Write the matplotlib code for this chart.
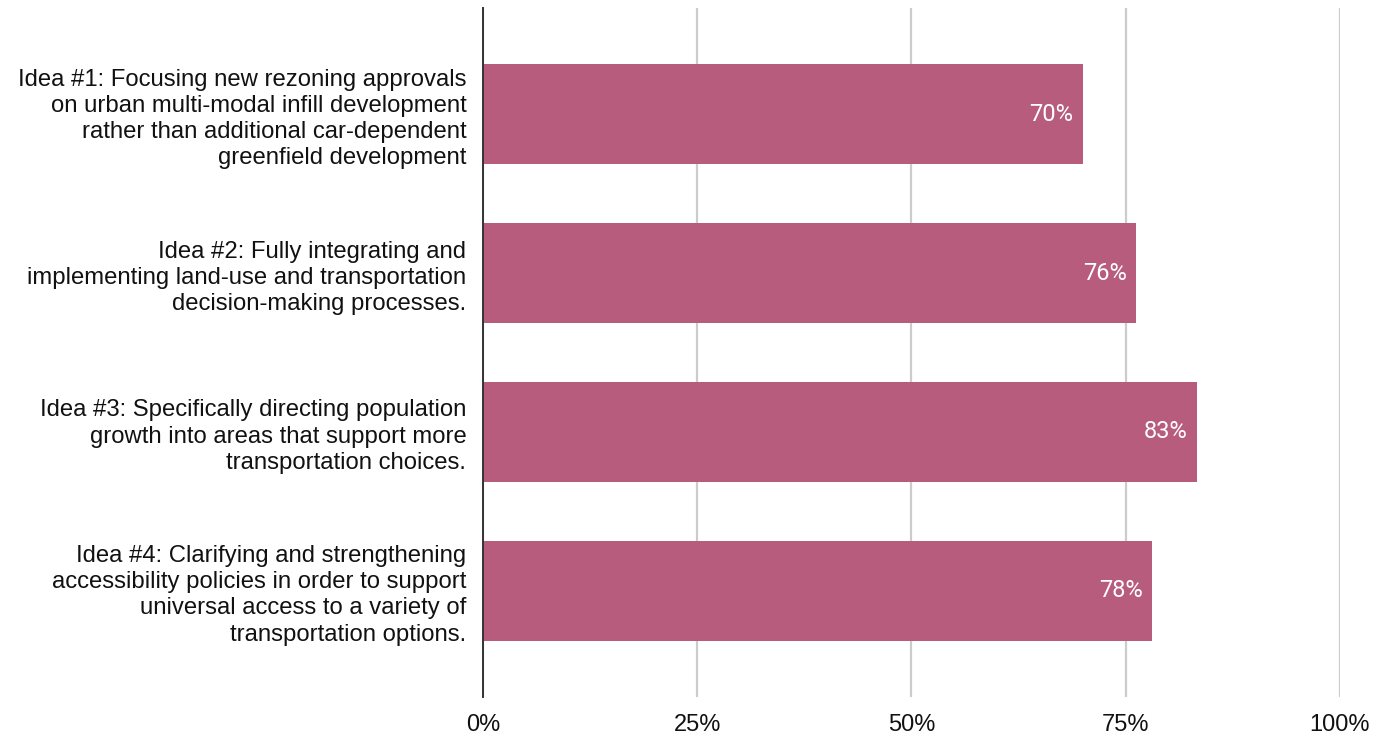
import matplotlib

matplotlib.use("Agg")
import matplotlib.pyplot as plt
from matplotlib.ticker import FuncFormatter

ideas = [
    "Idea #1: Focusing new rezoning approvals\non urban multi-modal infill development\nrather than additional car-dependent\ngreenfield development",
    "Idea #2: Fully integrating and\nimplementing land-use and transportation\ndecision-making processes.",
    "Idea #3: Specifically directing population\ngrowth into areas that support more\ntransportation choices.",
    "Idea #4: Clarifying and strengthening\naccessibility policies in order to support\nuniversal access to a variety of\ntransportation options.",
]
support = [0.70, 0.762, 0.833, 0.781]
x_ticks = [0, 0.25, 0.5, 0.75, 1.0]

plt.rcParams["font.family"] = ["Liberation Sans", "DejaVu Sans"]

fig = plt.figure(figsize=(13.9, 7.35), dpi=100)
ax = fig.add_axes([0.3475, 0.0517, 0.6165, 0.9374])

positions = list(range(len(ideas)))
ax.barh(positions, support, height=0.63, color="#b85c7e", zorder=3)

for y, value in zip(positions, support):
    ax.text(value - 0.011, y, f"{value:.0%}", ha="right", va="center",
            color="white", fontsize=17, family=["Roboto", "DejaVu Sans"], zorder=4)

ax.set_xlim(0, 1.0)
ax.set_ylim(len(ideas) - 1 + 0.67, -0.67)
ax.set_yticks(positions)
ax.set_yticklabels(ideas, fontsize=17.2, ha="right", linespacing=1.25)
ax.set_xticks(x_ticks)
ax.xaxis.set_major_formatter(FuncFormatter(lambda v, _: f"{v:.0%}"))
ax.tick_params(axis="x", labelsize=17, length=0, pad=12, colors="#111111")
ax.tick_params(axis="y", length=0, pad=12, colors="#111111")

ax.grid(axis="x", color="#cccccc", linewidth=1.6, zorder=0)
for side in ("top", "right", "bottom"):
    ax.spines[side].set_visible(False)
ax.spines["left"].set_color("#333333")
ax.spines["left"].set_linewidth(1.4)
ax.spines["left"].set_zorder(5)

fig.savefig("out.png", dpi=100)
plt.close(fig)
